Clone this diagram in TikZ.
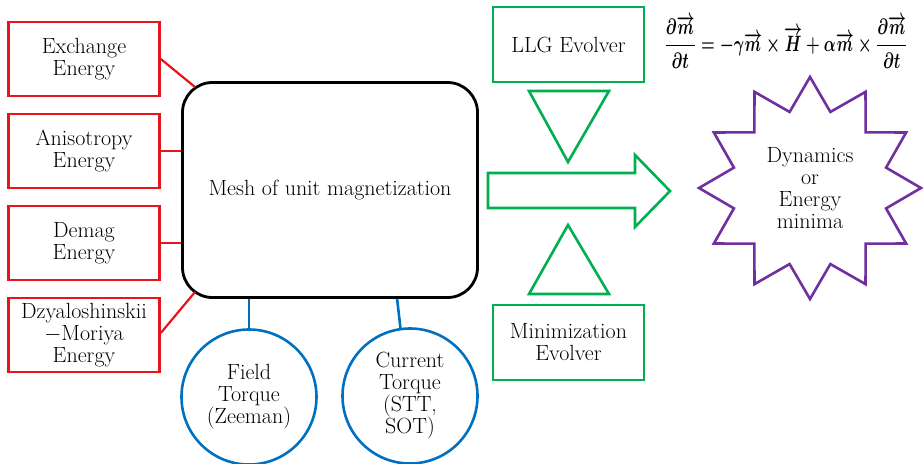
\RequirePackage{fix-cm}
\documentclass[tikz,border=0pt]{standalone}
\usepackage{amsmath}
\usepackage{bm}
\usepackage{graphicx}
\usepackage{fontspec}
\usetikzlibrary{shapes.geometric,calc}
\definecolor{boxred}{RGB}{232,20,27}
\definecolor{boxgreen}{RGB}{0,176,80}
\definecolor{boxblue}{RGB}{0,112,192}
\definecolor{boxpurple}{RGB}{112,48,160}
\newcommand{\vecm}{\overrightarrow{\bm{m}}}
\newsavebox{\llgbox}
\tikzset{
  every node/.style={font=\fontsize{22}{22}\selectfont, align=center, inner sep=0pt},
  energybox/.style={draw=boxred, line width=2.6pt, minimum width=151, minimum height=74},
  evolverbox/.style={draw=boxgreen, line width=2.6pt, minimum width=151, minimum height=75},
  torque/.style={draw=boxblue, line width=2.6pt, circle, minimum size=135},
  redlink/.style={draw=boxred, line width=2.2pt},
  bluelink/.style={draw=boxblue, line width=2.6pt},
  greenshape/.style={draw=boxgreen, line width=2.6pt, line join=miter},
}
\begin{document}
% the LLG equation in bold math, scaled to its slot
{\fontsize{14.7}{17}\selectfont\boldmath
\global\sbox{\llgbox}{\resizebox*{243pt}{52pt}{%
  $\dfrac{\bm{\partial}\vecm}{\bm{\partial t}}=-\bm{\gamma}\vecm\times\overrightarrow{\bm{H}}+\bm{\alpha}\vecm\times\dfrac{\bm{\partial}\vecm}{\bm{\partial t}}$}}}%
\begin{tikzpicture}[x=1pt, y=-1pt]
\useasboundingbox (0,0) rectangle (923,463);

% energy terms
\node[energybox] (ex) at (84,59)  {Exchange\\Energy};
\node[energybox] (an) at (84,151) {Anisotropy\\Energy};
\node[energybox] (dm) at (84,243) {Demag\\Energy};
\node[energybox] (dmi) at (84,335) {Dzyaloshinskii\\$-$Moriya\\Energy};

% central mesh
\node[draw=black, line width=2.8pt, rounded corners=30, minimum width=295, minimum height=215] (main) at (330,190) {Mesh of unit magnetization};

% torques
\node[torque] (field) at (249,397) {Field\\Torque\\(Zeeman)};
\node[torque] (cur) at (410,396) {Current\\Torque\\(STT,\\SOT)};

% evolvers
\node[evolverbox] (llg) at (568.5,44.5) {LLG Evolver};
\node[evolverbox] (mini) at (568.5,342.5) {Minimization\\Evolver};

% result
\node[draw=boxpurple, line width=2.6pt, star, star points=12, star point ratio=1.41, minimum size=222] (res) at (810,188) {Dynamics\\or\\Energy\\minima};

% LLG equation
\node (llgeq) at (786,42) {\usebox{\llgbox}};

% energy connectors
\draw[redlink] (ex.east) -- ($(main.north west)+(14,6)$);
\draw[redlink] (an.east) -- (an.east -| main.west);
\draw[redlink] (dm.east) -- (dm.east -| main.west);
\draw[redlink] ($(dmi.east)+(0,-2)$) -- ($(main.south west)+(14,-7)$);

% torque connectors
\draw[bluelink] (field.north |- main.south) -- (field.north);
\coordinate (curtop) at ($(main.south west)+(216,0)$);
\draw[bluelink] (curtop) -- (cur.98);

% evolver triangles and arrow
\draw[greenshape] (529,91) -- (609,91) -- (568,162) -- cycle;
\draw[greenshape] (529,294) -- (609,294) -- (568,225) -- cycle;
\draw[greenshape] (488,173) -- (635,173) -- (635,155) -- (670,191) -- (635,227) -- (635,208) -- (488,208) -- cycle;
\end{tikzpicture}
\end{document}
